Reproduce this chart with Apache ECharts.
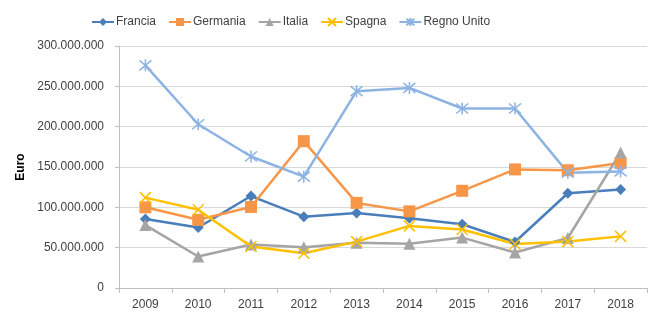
<!DOCTYPE html>
<html><head><meta charset="utf-8">
<script src="https://cdn.jsdelivr.net/npm/echarts@6/dist/echarts.min.js"></script>
<style>html,body{margin:0;padding:0;background:#fff}#c{width:660px;height:321px}</style>
</head><body><div id="c"></div>
<script>
const years = ['2009','2010','2011','2012','2013','2014','2015','2016','2017','2018'];
const francia = [85500000, 75000000, 114000000, 88400000, 93000000, 86500000, 79000000, 57000000, 117500000, 122000000];
const germania = [100000000, 84500000, 100500000, 182000000, 105500000, 95000000, 120500000, 147000000, 146000000, 155000000];
const italia = [78000000, 39000000, 54000000, 50500000, 56000000, 55000000, 62500000, 44000000, 62000000, 168000000];
const spagna = [112000000, 97000000, 51500000, 43000000, 57500000, 77000000, 72500000, 54500000, 57500000, 64000000];
const regnoUnito = [276000000, 203000000, 163000000, 138000000, 244000000, 248000000, 222500000, 222500000, 143000000, 144500000];

const font = '"Liberation Sans", Arial, sans-serif';
function fmt(v){ return String(v).replace(/\B(?=(\d{3})+(?!\d))/g, '.'); }
const X = 'path://M0,0L10,10M10,0L0,10';
const AST = 'path://M0,0L10,10M10,0L0,10M5,-1L5,11';
function mk(name, data, color, symbol, size, stroke){
  return {
    name, type:'line', data, symbol, symbolSize:size, showSymbol:true,
    lineStyle:{color, width:2.5},
    itemStyle: stroke ? {color:'rgba(0,0,0,0)', borderColor:color, borderWidth:1.5} : {color},
    emphasis:{disabled:true}, z: 2
  };
}
const chart = echarts.init(document.getElementById('c'), null, {renderer:'canvas'});
chart.setOption({
  animation:false,
  color:['#4a7ebb','#f79646','#a5a5a5','#ffc000','#8db3e2'],
  textStyle:{fontFamily:font},
  legend:{
    top:11, left:86, itemWidth:22, itemHeight:10, itemGap:12,
    textStyle:{fontFamily:font, fontSize:12, color:'#404040', padding:[0,0,0,-3]},
    data:['Francia','Germania','Italia','Spagna','Regno Unito']
  },
  grid:{left:119, right:13, top:46, bottom:33},
  xAxis:{
    type:'category', data:years, boundaryGap:true,
    axisLine:{lineStyle:{color:'#bfbfbf', width:1}},
    axisTick:{show:true, length:5, lineStyle:{color:'#bfbfbf'}},
    axisLabel:{fontFamily:font, fontSize:12, color:'#404040', margin:11}
  },
  yAxis:{
    type:'value', min:0, max:300000000, interval:50000000,
    name:'Euro', nameLocation:'middle', nameGap:87, nameRotate:90,
    nameTextStyle:{fontFamily:font, fontSize:12, fontWeight:'bold', color:'#000'},
    axisLine:{show:true, lineStyle:{color:'#bfbfbf'}},
    axisTick:{show:true, length:4, lineStyle:{color:'#bfbfbf'}},
    axisLabel:{fontFamily:font, fontSize:12, color:'#404040', margin:15, formatter:fmt},
    splitLine:{lineStyle:{color:'#d9d9d9', width:1}}
  },
  series:[
    mk('Francia', francia, '#4a7ebb', 'diamond', 11, false),
    mk('Germania', germania, '#f79646', 'rect', 12, false),
    mk('Italia', italia, '#a5a5a5', 'triangle', 12, false),
    mk('Spagna', spagna, '#ffc000', X, 11, true),
    mk('Regno Unito', regnoUnito, '#8db3e2', AST, 12, true)
  ]
});
</script></body></html>
